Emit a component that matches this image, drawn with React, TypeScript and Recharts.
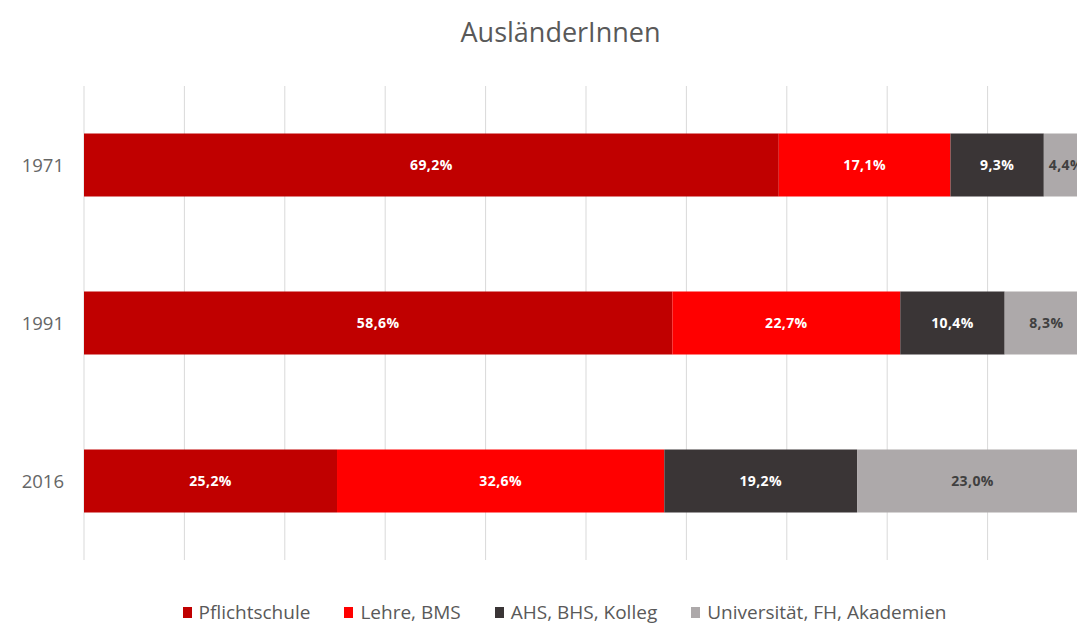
import React from "react";
import { BarChart, Bar, XAxis, YAxis, CartesianGrid, Legend, LabelList } from "recharts";

const years = ["1971", "1991", "2016"];
const pflichtschule = [69.2, 58.6, 25.2];
const lehre = [17.1, 22.7, 32.6];
const ahs = [9.3, 10.4, 19.2];
const uni = [4.4, 8.3, 23.0];
const seriesNames = ["Pflichtschule", "Lehre, BMS", "AHS, BHS, Kolleg", "Universität, FH, Akademien"];
const xTicks = [0, 10, 20, 30, 40, 50, 60, 70, 80, 90, 100];

const colors = ["#C00000", "#FF0000", "#3A3536", "#ADA9AA"];
const labelColors = ["#FFFFFF", "#FFFFFF", "#FFFFFF", "#404040"];
const keys = ["p", "l", "a", "u"];

const data = years.map((y, i) => ({
  year: y,
  p: pflichtschule[i],
  l: lehre[i],
  a: ahs[i],
  u: uni[i],
}));

const FONT = "'Open Sans', 'Liberation Sans', sans-serif";

const fmt = (v: any) => `${Number(v).toFixed(1).replace(".", ",")}%`;

const LegendContent = () => (
  <div
    style={{
      display: "flex",
      justifyContent: "center",
      gap: 34,
      fontFamily: FONT,
      fontSize: 19,
      lineHeight: "20px",
      height: 20,
      color: "#595959",
      width: 1077,
      transform: "translateX(18px)",
    }}
  >
    {seriesNames.map((n, i) => (
      <div key={n} style={{ display: "flex", alignItems: "center" }}>
        <span style={{ display: "inline-block", width: 9, height: 11, background: colors[i], marginRight: 7 }} />
        <span>{n}</span>
      </div>
    ))}
  </div>
);

export default function App() {
  return (
    <div style={{ position: "relative", width: 1077, height: 616, overflow: "hidden", background: "#fff" }}>
      <div
        style={{
          position: "absolute",
          top: 5,
          left: 14,
          width: 1077,
          textAlign: "center",
          fontFamily: FONT,
          fontSize: 27,
          color: "#595959",
          zIndex: 2,
        }}
      >
        AusländerInnen
      </div>
      <BarChart
        width={1100}
        height={616}
        data={data}
        layout="vertical"
        barCategoryGap="30%"
        margin={{ top: 78, right: 20, bottom: 44, left: 0 }}
      >
        <CartesianGrid horizontal={false} stroke="#D9D9D9" />
        <XAxis type="number" domain={[0, 100]} ticks={xTicks} hide />
        <YAxis
          type="category"
          dataKey="year"
          width={76}
          axisLine={false}
          tickLine={false}
          tickMargin={14}
          tick={{ fill: "#666666", fontSize: 18.5, fontFamily: FONT }}
        />
        <Legend
          verticalAlign="bottom"
          content={<LegendContent />}
          wrapperStyle={{ left: 0, width: 1077, bottom: 2, height: 20 }}
        />
        {keys.map((k, i) => (
          <Bar key={k} dataKey={k} name={seriesNames[i]} stackId="s" fill={colors[i]} isAnimationActive={false}>
            <LabelList
              dataKey={k}
              position="center"
              formatter={fmt}
              style={{ fill: labelColors[i], fontSize: 14, fontWeight: 700, fontFamily: FONT, letterSpacing: 0.4 }}
            />
          </Bar>
        ))}
      </BarChart>
    </div>
  );
}
